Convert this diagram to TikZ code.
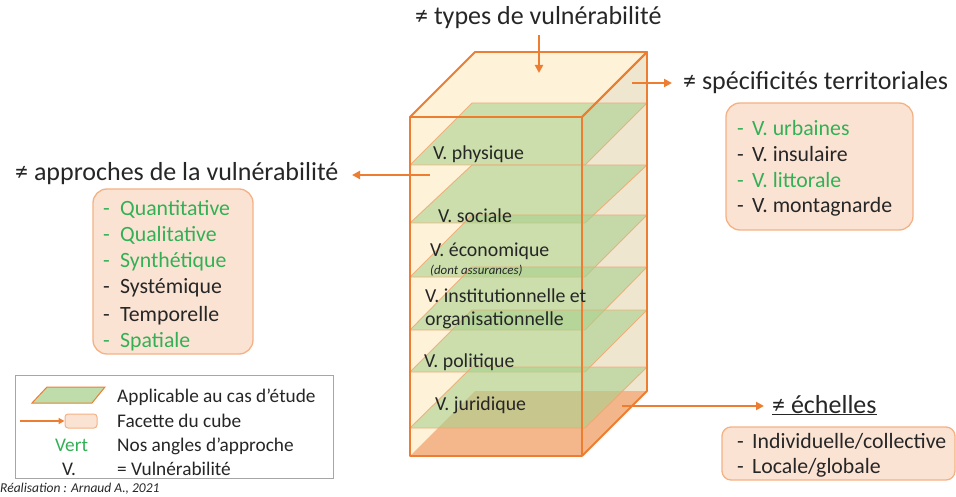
\documentclass[tikz,border=0pt]{standalone}
\usepackage{fontspec}
\setmainfont{Carlito}
\usetikzlibrary{arrows.meta}
\definecolor{orng}{HTML}{ED7D31}
\definecolor{peach}{HTML}{FBE3D4}
\definecolor{peachb}{HTML}{F4B183}
\definecolor{cream}{HTML}{FEF2D8}
\definecolor{beige}{HTML}{EFE6D0}
\definecolor{slicegreen}{HTML}{A9D18E}
\definecolor{vert}{HTML}{33B056}
\definecolor{txt}{HTML}{262626}
\begin{document}
\begin{tikzpicture}[x=1pt,y=-1pt,
  edge/.style={draw=orng, line width=1.8pt, line join=round},
  arr/.style={draw=orng, line width=2pt, -{Triangle[length=8pt,width=8pt]}},
  facet/.style={draw=peachb, fill=peach, line width=1.3pt, rounded corners=14pt},
  title/.style={font=\fontsize{26}{30}\selectfont, text=txt, anchor=base west, inner sep=0pt},
  item/.style={font=\fontsize{21.8}{24}\selectfont, text=txt, anchor=base west, inner sep=0pt},
  layer/.style={fill=slicegreen, fill opacity=0.6, draw=orng!70, draw opacity=0.8, line width=0.9pt},
  lbl/.style={font=\fontsize{19.8}{22}\selectfont, text=txt, anchor=base west, inner sep=0pt},
  leg/.style={font=\fontsize{19.3}{22}\selectfont, text=txt, anchor=base west, inner sep=0pt}]
\useasboundingbox (0,0) rectangle (956,497);
\newcommand{\dsh}[1]{\makebox[#1][l]{-}}
% ---- cube faces
\coordinate (FTL) at (410,117); \coordinate (FTR) at (582,117);
\coordinate (FBL) at (410,456); \coordinate (FBR) at (582,456);
\coordinate (BTL) at (475,52);  \coordinate (BTR) at (647,52);
\coordinate (BBL) at (475,391); \coordinate (BBR) at (647,391);
\fill[cream] (FTL) -- (BTL) -- (BTR) -- (FTR) -- cycle;
\fill[beige] (FTR) -- (BTR) -- (BBR) -- (FBR) -- cycle;
\fill[cream] (FTL) rectangle (FBR);
\fill[peachb, fill opacity=0.9] (FBL) -- (BBL) -- (BBR) -- (FBR) -- cycle;
% ---- green layers (front y, back y)
\foreach \f/\b in {165/103, 223/165, 277/215, 330/267, 372/310, 428/367}{
  \path[layer] (410,\f) -- (472,\b) -- (647,\b) -- (585,\f) -- cycle;
}
% ---- cube edges
\draw[edge] (FTL) -- (BTL) -- (BTR) -- (FTR) -- cycle;
\draw[edge] (FTL) rectangle (FBR);
\draw[edge] (FTR) -- (BTR) -- (BBR) -- (FBR);
% ---- labels in the cube
\node[lbl] (lphy) at (433,160) {V. physique};
\node[lbl] (lsoc) at (438,223) {V. sociale};
\node[lbl] (leco) at (430,257) {V. économique};
\node[lbl, font=\fontsize{12.9}{14}\selectfont\itshape] (lass) at (430,274) {(dont assurances)};
\node[lbl] (linst) at (425,302) {V. institutionnelle et};
\node[lbl] (lorg) at (425,325) {organisationnelle};
\node[lbl] (lpol) at (424,367) {V. politique};
\node[lbl] (ljur) at (435,410) {V. juridique};
% ---- titles
\node[title] (ttypes) at (415,25) {≠ types de vulnérabilité};
\node[title] (tappr) at (15,181) {≠ approches de la vulnérabilité};
\node[title] (tspec) at (683,90) {≠ spécificités territoriales};
\node[title] (tech) at (772,413) {\underline{≠ échelles}};
% ---- arrows
\coordinate (ctop) at (539,73);
\coordinate (cright) at (632,83);
\coordinate (cleft) at (430,175);
\coordinate (cbot) at (622,406);
\draw[arr] (539,35) -- (ctop);
\draw[arr] (cright) -- (672,83);
\draw[arr] (cleft) -- (352,175);
\draw[arr] (cbot) -- (764,406);
% ---- facet boxes
\node[facet, minimum width=160pt, minimum height=165pt] (bappr) at (173,271.5) {};
\node[facet, minimum width=187pt, minimum height=127pt] (bspec) at (819.5,166.5) {};
\node[facet, minimum width=233pt, minimum height=53pt, rounded corners=9pt] (bech) at (838.5,453.5) {};
% approaches list
\node[item, text=vert] (a1) at (103,216) {\dsh{17pt}Quantitative};
\node[item, text=vert] (a2) at (103,242) {\dsh{17pt}Qualitative};
\node[item, text=vert] (a3) at (103,268) {\dsh{17pt}Synthétique};
\node[item] (a4) at (103,294) {\dsh{17pt}Systémique};
\node[item] (a5) at (103,321) {\dsh{17pt}Temporelle};
\node[item, text=vert] (a6) at (103,347) {\dsh{17pt}Spatiale};
% territorial list
\node[item, text=vert] (s1) at (737,136) {\dsh{15pt}V. urbaines};
\node[item] (s2) at (737,162) {\dsh{15pt}V. insulaire};
\node[item, text=vert] (s3) at (737,188) {\dsh{15pt}V. littorale};
\node[item] (s4) at (737,213) {\dsh{15pt}V. montagnarde};
% scales list
\node[item] (e1) at (737,448) {\dsh{15pt}Individuelle/collective};
\node[item] (e2) at (737,473) {\dsh{15pt}Locale/globale};
% ---- legend
\node[draw=gray!70, line width=1pt, minimum width=318pt, minimum height=103pt, inner sep=0pt] (legbox) at (174,426.5) {};
\path[fill=slicegreen!75, draw=orng, line width=1pt] (32,403) -- (47,387) -- (105,387) -- (92,403) -- cycle;
\node[draw=peachb, fill=peach, line width=1pt, rounded corners=3pt, minimum width=32pt, minimum height=14pt, inner sep=0pt] (legfacet) at (81,421) {};
\coordinate (legarr) at (20,421);
\draw[arr, line width=1.6pt, -{Triangle[length=6pt,width=6pt]}] (legarr) -- (legfacet.west);
\node[leg] (g1) at (117,402) {Applicable au cas d’étude};
\node[leg] (g2) at (117,427) {Facette du cube};
\node[leg, text=vert] (gv) at (55,451) {Vert};
\node[leg] (g3) at (117,451) {Nos angles d’approche};
\node[leg] (gvv) at (62,475) {V.};
\node[leg] (g4) at (117,475) {= Vulnérabilité};
\node[leg, font=\fontsize{13.5}{15}\selectfont\itshape] (real) at (0,492) {Réalisation : Arnaud A., 2021};
\end{tikzpicture}
\end{document}
